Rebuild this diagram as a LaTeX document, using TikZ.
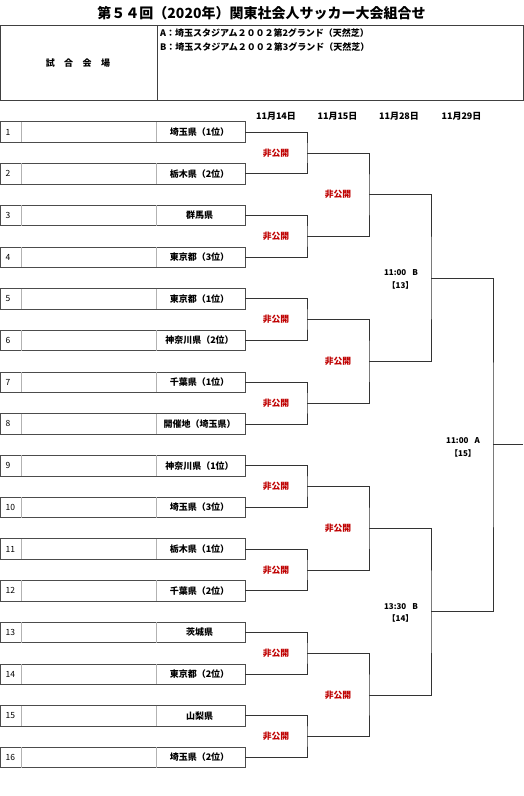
\documentclass[tikz,border=0pt]{standalone}
\usepackage{fontspec}
\setmainfont{Noto Sans CJK JP}
\begin{document}
\begin{tikzpicture}[x=1pt,y=-1pt,
  box/.style={draw=black!70, line width=0.7pt, minimum width=245pt, minimum height=20.5pt, inner sep=0pt, outer sep=0pt},
  divider/.style={draw=black!30, line width=0.5pt},
  team/.style={font=\bfseries\fontsize{9}{10}\selectfont, inner sep=0pt},
  num/.style={font=\fontsize{8.5}{10}\selectfont, anchor=west, inner sep=0pt},
  closed/.style={text=red!75!black, font=\bfseries\fontsize{8.8}{10}\selectfont, inner sep=0pt},
  bracket/.style={draw=black!80, line width=0.7pt},
  info/.style={font=\bfseries\fontsize{9}{10}\selectfont, inner sep=0pt},
  small/.style={font=\bfseries\fontsize{8}{9}\selectfont, inner sep=0pt},
]
\useasboundingbox (0,0) rectangle (523,796);
% title
\node[font=\bfseries\fontsize{14}{16}\selectfont, inner sep=0pt] (title) at (261.5,13) {第５４回（2020年）関東社会人サッカー大会組合せ};
% header box
\node[draw=black!75, line width=0.8pt, minimum width=523pt, minimum height=75pt, anchor=north west, inner sep=0pt, outer sep=0pt] (hdr) at (0,25) {};
\draw[black!75, line width=0.8pt] ([xshift=157pt]hdr.north west) -- ([xshift=157pt]hdr.south west);
\node[info] (venue) at (78,63) {試\hspace{9.5pt}合\hspace{9.5pt}会\hspace{9.5pt}場};
\node[info, anchor=west] (va) at (160,33) {A：埼玉スタジアム２００２第2グランド（天然芝）};
\node[info, anchor=west] (vb) at (160,47) {B：埼玉スタジアム２００２第3グランド（天然芝）};
% dates
\node[info] (d1) at (276,116) {11月14日};
\node[info] (d2) at (337.5,116) {11月15日};
\node[info] (d3) at (399,116) {11月28日};
\node[info] (d4) at (461.5,116) {11月29日};
% teams
\foreach \n/\nm in {1/埼玉県（1位）,2/栃木県（2位）,3/群馬県,4/東京都（3位）,5/東京都（1位）,6/神奈川県（2位）,7/千葉県（1位）,8/開催地（埼玉県）,9/神奈川県（1位）,10/埼玉県（3位）,11/栃木県（1位）,12/千葉県（2位）,13/茨城県,14/東京都（2位）,15/山梨県,16/埼玉県（2位）}{
  \pgfmathsetmacro\cy{132+(\n-1)*41.7}
  \node[box] (t\n) at (122.5,\cy) {};
  \draw[divider] ([xshift=21pt]t\n.north west) -- ([xshift=21pt]t\n.south west);
  \draw[divider] ([xshift=156pt]t\n.north west) -- ([xshift=156pt]t\n.south west);
  \node[num] (n\n) at (5.5,\cy) {\n};
  \node[team] (nm\n) at (199.5,\cy) {\nm};
}
% round 1
\foreach \k in {1,...,8}{
  \pgfmathtruncatemacro\a{2*\k-1}
  \pgfmathtruncatemacro\b{2*\k}
  \pgfmathsetmacro\my{132+(2*\k-1.5)*41.7}
  \coordinate (ra\k) at (307,\my);
  \draw[bracket] (t\a.east) -| (ra\k) |- (t\b.east);
  \node[closed] (la\k) at (276,\my) {非公開};
}
% round 2
\foreach \j in {1,...,4}{
  \pgfmathtruncatemacro\a{2*\j-1}
  \pgfmathtruncatemacro\b{2*\j}
  \pgfmathsetmacro\my{132+(4*\j-2.5)*41.7}
  \coordinate (rb\j) at (369,\my);
  \draw[bracket] (ra\a) -| (rb\j) |- (ra\b);
  \node[closed] (lb\j) at (338,\my) {非公開};
}
% round 3
\foreach \j in {1,2}{
  \pgfmathtruncatemacro\a{2*\j-1}
  \pgfmathtruncatemacro\b{2*\j}
  \pgfmathsetmacro\my{132+(8*\j-4.5)*41.7}
  \coordinate (rc\j) at (431,\my);
  \draw[bracket] (rb\a) -| (rc\j) |- (rb\b);
}
% final
\coordinate (rd) at (493,444.75);
\coordinate (fin) at (523,444.75);
\draw[bracket] (rc1) -| (rd) |- (rc2);
\draw[bracket] (rd) -- (fin);
% match labels
\node[small] (m13) at (401,273) {11:00\hspace{6pt}B};
\node[small] (m13b) at (400.5,285) {【13】};
\node[small] (m15) at (463,441) {11:00\hspace{6pt}A};
\node[small] (m15b) at (463,453) {【15】};
\node[small] (m14) at (401,607) {13:30\hspace{6pt}B};
\node[small] (m14b) at (400.5,618) {【14】};
\end{tikzpicture}
\end{document}
